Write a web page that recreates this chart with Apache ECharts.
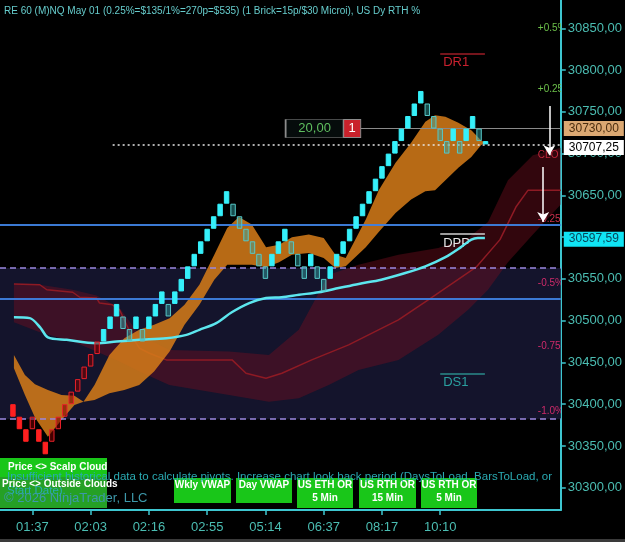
<!DOCTYPE html>
<html>
<head>
<meta charset="utf-8">
<style>
  html, body { margin: 0; padding: 0; background: #000; }
  #chart { width: 625px; height: 542px; }
</style>
<script src="https://cdn.jsdelivr.net/npm/echarts@6/dist/echarts.min.js"></script>
</head>
<body>
<div id="chart"></div>
<script>
// ---- renko bricks ----
const BRICK_BASE = 30340;
const BRICK_SIZE = 15;
const RED_BRICKS = 14; // first bricks are painted in the red (down trend) scheme
// brick level, low = BRICK_BASE + BRICK_SIZE * level, left to right
const brickLevels = [
  3, 2, 1, 2, 1, 0, 1, 2, 3, 4, 5, 6, 7, 8,
  9, 10, 11, 10, 9, 10, 9, 10, 11, 12, 11, 12, 13, 14, 15, 16, 17, 18, 19, 20,
  19, 18, 17, 16, 15, 14, 15, 16, 17, 16, 15, 14, 15, 14, 13, 14, 15, 16, 17, 18,
  19, 20, 21, 22, 23, 24, 25, 26, 27, 28,
  27, 26, 25, 24, 25, 24, 25, 26, 25
];
const currentBrick = [30711, 30715]; // forming brick

// ---- axes ----
const tickIdx = [3, 12, 21, 30, 39, 48, 57, 66];
const tickLabels = ['01:37', '02:03', '02:16', '02:55', '05:14', '06:37', '08:17', '10:10'];
const priceTicks = [30300, 30350, 30400, 30450, 30500, 30550, 30600, 30650, 30700, 30750, 30800, 30850];

// ---- VWAP ----
const vwapX = [0.15, 2.6, 4.2, 5.4, 8.3, 12.9, 16, 19.5, 23.7, 26.8, 28.8, 31.4, 33.8, 36.5,
  39.1, 41.5, 44.2, 47.2, 50.3, 53.4, 56.9, 60.6, 63.7, 66.8, 69.2, 70.8, 71.8, 72.9];
const vwapY = [30504, 30503, 30492, 30480, 30477, 30473, 30475, 30477, 30479, 30483, 30489, 30497, 30510, 30521,
  30527, 30528, 30531, 30534, 30539, 30544, 30549, 30557, 30565, 30576, 30588, 30597, 30599, 30599];

// ---- scalp cloud (orange) ----
const orangeX = [0.15, 1.85, 3.4, 5.4, 7.5, 9.5, 10.9, 12.6, 14.9, 17.2, 19.5, 21.8, 24.2, 26.5, 28.8, 31.1,
  33.1, 34.9, 36.9, 39.1, 41.1, 43.1, 45.7, 48.0, 49.8, 51.4, 54.5, 56.5, 59.1, 61.5, 63.7, 65.2, 66.8,
  68.8, 70.8, 72.3, 72.9];
const orangeUp = [30459, 30435, 30424, 30417, 30411, 30410, 30403, 30423, 30459, 30479, 30489, 30495, 30503,
  30519, 30543, 30579, 30611, 30624, 30615, 30588, 30591, 30600, 30603, 30599, 30579, 30575, 30621, 30656,
  30689, 30713, 30738, 30746, 30744, 30737, 30728, 30716, 30713];
const orangeLow = [30443, 30411, 30384, 30361, 30381, 30399, 30403, 30405, 30413, 30417, 30423, 30439, 30463,
  30495, 30519, 30549, 30567, 30567, 30567, 30564, 30570, 30579, 30581, 30575, 30563, 30565, 30588, 30606,
  30629, 30645, 30655, 30656, 30668, 30683, 30696, 30710, 30713];

// ---- outside cloud (dark red) ----
const redX = [0.15, 4.15, 9.23, 12.92, 16.46, 19.54, 24.15, 33.38, 39.54, 44.15, 48.77, 53.38, 59.54,
  65.69, 70.31, 73.38, 76.46, 80.31, 84.62];
const redUp = [30544, 30543, 30537, 30530, 30515, 30483, 30465, 30463, 30459, 30489, 30555, 30567, 30579,
  30587, 30599, 30618, 30668, 30698, 30707];
const redLow = [30498, 30486, 30475, 30463, 30451, 30439, 30423, 30411, 30403, 30407, 30423, 30441, 30453,
  30483, 30513, 30537, 30570, 30603, 30639];
const redLineX = [0.15, 4.15, 5.23, 9.23, 10.31, 12.92, 13.38, 15.38, 16.46, 18.46, 19.54, 21.08, 23.69,
  33.85, 36.0, 39.08, 41.54, 46.15, 51.85, 59.54, 64.15, 71.54, 75.23, 77.69, 79.54, 84.62];
const redLineY = [30544, 30543, 30537, 30534, 30528, 30527, 30521, 30519, 30513, 30480, 30467, 30461, 30453,
  30453, 30437, 30431, 30437, 30453, 30471, 30501, 30525, 30564, 30597, 30636, 30656, 30656];

// ---- levels ----
const blueLevels = [30615, 30526];
const dashedLevels = [30563, 30382];
const pivotNames = ['DR1', 'DPP', 'DS1'];
const pivotValues = [30820, 30604, 30437];
const pctLabels = ['+0.5%', '+0.25%', 'CLO', '-0.25%', '-0.5%', '-0.75%', '-1.0%'];
const pctValues = [30850, 30777, 30698, 30622, 30545, 30469, 30392];
const lastPrice = 30707.25;
const lastLine = 30711;
const orderPrice = 30730;
const orderQty = '20,00';
const orderCount = '1';
const vwapLast = 30597.59;
const arrowX = [82.85, 81.9];
const arrowFrom = [30757, 30684];
const arrowTo = [30698, 30618];

const buttonLabels = ['Wkly VWAP', 'Day VWAP', 'US ETH OR\n5 Min', 'US RTH OR\n15 Min', 'US RTH OR\n5 Min'];

// ---- layout / style ----
const FONT = '"Liberation Sans", Arial, sans-serif';
const AXIS = '#3ec6d0';
const LABEL = '#4bbdb2';
const X_MIN = -2, X_MAX = 84.62;
const Y_MIN = 30273.3, Y_MAX = 30883.9;
const PIV_START = 66, PIV_END = 72.9;

const fmt = v => v.toFixed(2).replace('.', ',');

const BRICK_STYLES = [
  { fill: '#ff2020', stroke: '#ff2020' },                 // red down
  { fill: 'rgba(120,0,0,0.55)', stroke: '#e8202a' },      // red up
  { fill: '#36f0fa', stroke: '#36f0fa' },                 // cyan up
  { fill: 'rgba(50,170,170,0.45)', stroke: '#56c8c8' },   // cyan down
  { fill: '#36f0fa', stroke: '#36f0fa' }                  // forming
];

const brickData = brickLevels.map((lv, i) => {
  const prev = i === 0 ? lv + 1 : brickLevels[i - 1];
  const up = lv > prev;
  const kind = i < RED_BRICKS ? (up ? 1 : 0) : (up ? 2 : 3);
  return [i, BRICK_BASE + BRICK_SIZE * lv, BRICK_BASE + BRICK_SIZE * (lv + 1), kind];
});
brickData.push([brickLevels.length, currentBrick[0], currentBrick[1], 4]);

function bandSeries(xs, up, lo, color, z) {
  return {
    type: 'custom',
    z: z,
    silent: true,
    clip: true,
    encode: { x: 0, y: [1, 2] },
    data: xs.map((x, k) => [x, up[k], lo[k]]),
    renderItem: function (params, api) {
      if (params.dataIndex !== 0) return;
      const pts = [];
      xs.forEach((x, k) => pts.push(api.coord([x, up[k]])));
      for (let k = xs.length - 1; k >= 0; k--) pts.push(api.coord([xs[k], lo[k]]));
      return { type: 'polygon', shape: { points: pts }, style: { fill: color } };
    }
  };
}

function tag(value, bg, fg) {
  return {
    yAxis: value,
    lineStyle: { color: 'rgba(0,0,0,0)', width: 1, type: 'solid' },
    label: {
      show: true, position: 'end', distance: 3, formatter: fmt(value),
      backgroundColor: bg, color: fg, fontSize: 12, fontFamily: FONT, padding: [2, 5, 1, 5]
    }
  };
}

const pivotColors = [['#9c1c26', '#c8202e'], ['#d0d0d0', '#e4e4e4'], ['#2a8a8a', '#2aa0a0']];
const pivotLines = pivotNames.map((name, k) => [
  {
    coord: [PIV_START, pivotValues[k]],
    lineStyle: { color: pivotColors[k][0], width: 1.5, type: 'solid' },
    label: { show: true, position: 'insideStartBottom', formatter: name, color: pivotColors[k][1], fontSize: 13, fontFamily: FONT, distance: 3 }
  },
  { coord: [PIV_END, pivotValues[k]] }
]);

const arrows = arrowX.map((x, k) => [
  { coord: [x, arrowFrom[k]], symbol: 'none', lineStyle: { color: '#ffffff', width: 1.5, type: 'solid' } },
  { coord: [x, arrowTo[k]], symbol: 'arrow', symbolSize: [9, 10] }
]);

const pctColors = ['#6cc04a', '#6cc04a', '#c0283c', '#c8304c', '#d02a6a', '#d02a6a', '#d02a6a'];

const buttonX = [174, 236, 297, 359, 421];
const buttonW = [57, 56, 56, 57, 56];
const buttonH = [25, 25, 30, 30, 30];
const buttons = [];
buttonLabels.forEach((t, k) => {
  buttons.push({ type: 'rect', shape: { x: buttonX[k], y: 478, width: buttonW[k], height: buttonH[k] }, style: { fill: '#19c619' } });
  buttons.push({
    type: 'text', x: buttonX[k] + buttonW[k] / 2, y: 479,
    style: { text: t, fill: '#ffffff', font: 'bold 10px ' + FONT, align: 'center', verticalAlign: 'top', lineHeight: 13 }
  });
});

const chart = echarts.init(document.getElementById('chart'));

const option = {
  backgroundColor: '#000',
  animation: false,
  textStyle: { fontFamily: FONT },
  title: {
    text: 'RE 60 (M)NQ May 01 (0.25%=$135/1%=270p=$535) (1 Brick=15p/$30 Microi), US Dy RTH %',
    left: 4, top: 6, padding: 0,
    textStyle: { color: '#66cccc', fontSize: 10, fontWeight: 'normal', fontFamily: FONT }
  },
  grid: { left: 0, right: 62, top: 0, bottom: 32 },
  xAxis: {
    type: 'value', min: X_MIN, max: X_MAX,
    axisLine: { show: true, onZero: false, lineStyle: { color: AXIS, width: 2 } },
    axisTick: { show: true, customValues: tickIdx, length: 5, lineStyle: { color: AXIS, width: 1.5 } },
    axisLabel: {
      customValues: tickIdx, formatter: v => tickLabels[tickIdx.indexOf(v)],
      color: LABEL, fontSize: 13, margin: 11
    },
    splitLine: { show: false }
  },
  yAxis: {
    type: 'value', position: 'right', min: Y_MIN, max: Y_MAX,
    axisLine: { show: true, onZero: false, lineStyle: { color: AXIS, width: 2 } },
    axisTick: { show: true, customValues: priceTicks, length: 5, lineStyle: { color: AXIS, width: 1.5 } },
    axisLabel: { customValues: priceTicks, formatter: v => fmt(v), color: LABEL, fontSize: 13, margin: 7 },
    splitLine: { show: false }
  },
  series: [
    {
      type: 'line', data: [], z: 1, silent: true,
      markArea: {
        silent: true,
        itemStyle: { color: '#14142c' },
        data: [[{ yAxis: dashedLevels[1] }, { yAxis: dashedLevels[0] }]]
      }
    },
    bandSeries(redX, redUp, redLow, 'rgba(120,14,30,0.42)', 2),
    {
      type: 'line', z: 2, silent: true, showSymbol: false,
      data: redLineX.map((x, k) => [x, redLineY[k]]),
      lineStyle: { color: '#8e1a24', width: 1.5 }
    },
    bandSeries(orangeX, orangeUp, orangeLow, 'rgba(215,125,25,0.85)', 3),
    {
      type: 'line', z: 5, silent: true, showSymbol: false, smooth: 0.3,
      data: vwapX.map((x, k) => [x, vwapY[k]]),
      lineStyle: { color: '#5ce6ee', width: 2.5 },
      markLine: {
        silent: true, symbol: 'none', animation: false,
        label: { show: false },
        data: [
          { yAxis: blueLevels[0], lineStyle: { color: 'rgba(62,128,222,0.95)', width: 2, type: 'solid' } },
          { yAxis: blueLevels[1], lineStyle: { color: 'rgba(62,128,222,0.95)', width: 2, type: 'solid' } },
          { yAxis: dashedLevels[0], lineStyle: { color: '#9a88e0', width: 1.5, type: [6, 4] } },
          { yAxis: dashedLevels[1], lineStyle: { color: '#9a88e0', width: 1.5, type: [6, 4] } },
          [{ coord: [15.4, lastLine], lineStyle: { color: '#e8e8e8', width: 1.5, type: [2, 3] } }, { coord: [X_MAX, lastLine] }],
          [{
            coord: [53.7, orderPrice], lineStyle: { color: '#8a8a8a', width: 1, type: 'solid' },
            label: {
              show: true, position: 'end', distance: 3, formatter: fmt(orderPrice),
              backgroundColor: '#dba872', color: '#4a2c0e', fontSize: 12, fontFamily: FONT, padding: [2, 5, 1, 5]
            }
          }, { coord: [X_MAX, orderPrice] }],
          tag(lastPrice, '#ffffff', '#000000'),
          tag(vwapLast, '#10e4f4', '#08465a'),
          ...pivotLines,
          ...arrows
        ]
      },
      markPoint: {
        silent: true, animation: false,
        data: [
          {
            coord: [46.6, orderPrice], symbol: 'rect', symbolSize: [58, 18],
            itemStyle: { color: '#060c0c', borderColor: '#8c8c8c', borderWidth: 1 },
            label: { show: true, formatter: orderQty, color: '#5fbf5f', fontSize: 13, fontFamily: FONT }
          },
          {
            coord: [52.4, orderPrice], symbol: 'rect', symbolSize: [17, 18],
            itemStyle: { color: '#c9212b', borderColor: '#8c8c8c', borderWidth: 1 },
            label: { show: true, formatter: orderCount, color: '#ffffff', fontSize: 13, fontFamily: FONT }
          }
        ]
      }
    },
    {
      type: 'custom', z: 6, silent: true,
      encode: { x: 0, y: [1, 2] },
      data: brickData,
      renderItem: function (params, api) {
        const x = api.value(0);
        const top = api.coord([x, api.value(2)]);
        const bot = api.coord([x, api.value(1)]);
        const w = api.size([1, 0])[0] * 0.84;
        const st = BRICK_STYLES[api.value(3)];
        return {
          type: 'rect',
          shape: { x: top[0] - w / 2 + 0.5, y: top[1] + 0.5, width: w - 1, height: Math.max(bot[1] - top[1] - 1, 1) },
          style: { fill: st.fill, stroke: st.stroke, lineWidth: 1 }
        };
      }
    },
    {
      type: 'custom', z: 4, silent: true, clip: true,
      encode: { x: 0, y: 1 },
      data: pctValues.map((v, k) => [81.08, v, k]),
      renderItem: function (params, api) {
        const p = api.coord([api.value(0), api.value(1)]);
        const k = api.value(2);
        return {
          type: 'text', x: p[0], y: p[1],
          style: { text: pctLabels[k], fill: pctColors[k], font: '10px ' + FONT, align: 'left', verticalAlign: 'middle' }
        };
      }
    }
  ],
  graphic: [
    { type: 'rect', z: 100, shape: { x: 0, y: 458, width: 107, height: 19 }, style: { fill: '#19c619' } },
    { type: 'rect', z: 100, shape: { x: 0, y: 477, width: 107, height: 31 }, style: { fill: 'rgba(48,205,48,0.78)' } },
    ...buttons.map(b => Object.assign({ z: 100 }, b)),
    { type: 'text', z: 101, x: 8, y: 467, style: { text: 'Price <> Scalp Cloud', fill: '#ffffff', font: 'bold 10px ' + FONT, verticalAlign: 'middle' } },
    { type: 'text', z: 101, x: 7, y: 477, style: { text: 'Insufficient historical data to calculate pivots. Increase chart look back period (DaysToLoad, BarsToLoad, or', fill: '#2aaab2', font: '11.5px ' + FONT, verticalAlign: 'middle' } },
    { type: 'text', z: 101, x: 7, y: 491, style: { text: 'Start Date).', fill: '#2aaab2', font: '11.5px ' + FONT, verticalAlign: 'middle' } },
    { type: 'text', z: 101, x: 2, y: 484, style: { text: 'Price <> Outside Clouds', fill: '#ffffff', font: 'bold 10px ' + FONT, verticalAlign: 'middle' } },
    { type: 'text', z: 101, x: 4, y: 498, style: { text: '© 2026 NinjaTrader, LLC', fill: '#3d98aa', font: '13px ' + FONT, verticalAlign: 'middle' } },
    { type: 'rect', z: 100, shape: { x: 0, y: 539, width: 625, height: 3 }, style: { fill: '#3a3a3a' } }
  ]
};

chart.setOption(option);
</script>
</body>
</html>
